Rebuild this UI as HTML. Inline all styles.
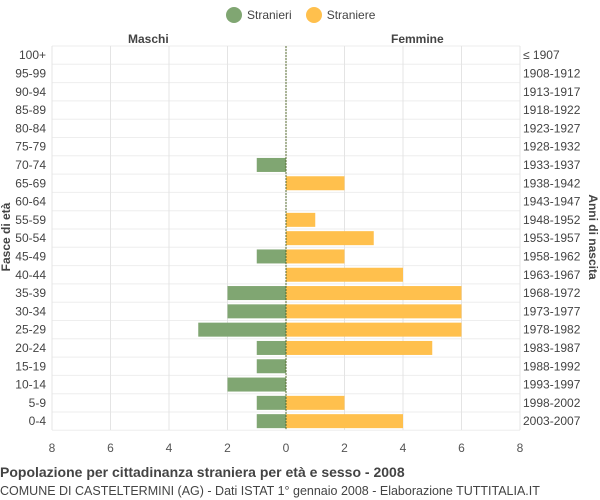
<!DOCTYPE html>
<html><head><meta charset="utf-8"><style>
body{margin:0;background:#fff;font-family:"Liberation Sans",sans-serif;}
svg text{font-family:"Liberation Sans",sans-serif;}
</style></head><body>
<svg id="c" width="600" height="500" style="position:absolute;left:0;top:0" xmlns="http://www.w3.org/2000/svg"></svg>
<script>
const ageGroups=["0-4","5-9","10-14","15-19","20-24","25-29","30-34","35-39","40-44","45-49","50-54","55-59","60-64","65-69","70-74","75-79","80-84","85-89","90-94","95-99","100+"];
const birthYears=["2003-2007","1998-2002","1993-1997","1988-1992","1983-1987","1978-1982","1973-1977","1968-1972","1963-1967","1958-1962","1953-1957","1948-1952","1943-1947","1938-1942","1933-1937","1928-1932","1923-1927","1918-1922","1913-1917","1908-1912","≤ 1907"];
const males=[1,1,2,1,1,3,2,2,0,1,0,0,0,0,1,0,0,0,0,0,0];
const females=[4,2,0,0,5,6,6,6,4,2,3,1,0,2,0,0,0,0,0,0,0];
const ticks=[8,6,4,2,0,2,4,6,8];
const NS="http://www.w3.org/2000/svg";
const svgEl=document.getElementById('c');
const cx=286, unit=29.25, plotTop=46, rowH=18.3, plotLeft=52, plotRight=520, plotBottom=430;
const xM=v=>cx-v*unit;
const xF=v=>cx+v*unit;
const yRow=i=>plotTop+(20-i)*rowH+rowH/2;
function el(tag,attrs,txt){const e=document.createElementNS(NS,tag);for(const k in attrs)e.setAttribute(k,attrs[k]);if(txt!==undefined)e.textContent=txt;svgEl.appendChild(e);return e;}
for(let i=0;i<=21;i++){const y=plotTop+i*rowH;const g=el('line',{x1:plotLeft,x2:plotRight,y1:y,y2:y,stroke:'#eeeeee'});
 
 }
for(let i=0;i<ticks.length;i++){
 const x=i<4?xM(ticks[i]):xF(ticks[i]);
 const g=el('line',{x1:x,x2:x,y1:plotTop,y2:plotBottom,stroke:'#e4e4e4'});
 
 
 const t=el('text',{x:x,y:452,'text-anchor':'middle','font-size':12,fill:'#555'},ticks[i]);
 
 
}
for(let i=0;i<ageGroups.length;i++){
 const y=yRow(i);
 const a=el('text',{x:46,y:y+4,'text-anchor':'end','font-size':12,fill:'#444'},ageGroups[i]);
 
 
 const b=el('text',{x:523,y:y+4,'font-size':12,fill:'#444'},birthYears[i]);
 
 
 if(males[i]>0){const r=el('rect',{x:xM(males[i]),y:y-7,width:males[i]*unit,height:14,fill:'#80a672'});
  
  }
 if(females[i]>0){const r=el('rect',{x:cx,y:y-7,width:females[i]*unit,height:14,fill:'#ffc04d'});
  
  }
}
const c=el('line',{x1:cx,x2:cx,y1:plotTop,y2:plotBottom,stroke:'#556b2f','stroke-dasharray':'2,1'});


</script>
<div style="position:absolute;left:0;top:0;width:600px;height:500px;pointer-events:none">
<div style="position:absolute;top:7px;left:226px;font-size:12px;color:#444;display:flex;align-items:center">
<span style="display:inline-block;width:16px;height:16px;border-radius:50%;background:#80a672;margin-right:5px"></span><span>Stranieri</span>
<span style="display:inline-block;width:16px;height:16px;border-radius:50%;background:#ffc04d;margin:0 5px 0 14px"></span><span>Straniere</span>
</div>
<div style="position:absolute;top:32px;left:128px;font-size:12px;font-weight:bold;color:#444">Maschi</div>
<div style="position:absolute;top:32px;left:391px;font-size:12px;font-weight:bold;color:#444">Femmine</div>
<div style="position:absolute;left:-29px;top:230px;width:70px;text-align:center;transform:rotate(-90deg);font-size:12px;font-weight:bold;color:#444">Fasce di età</div>
<div style="position:absolute;left:548px;top:230px;width:90px;text-align:center;transform:rotate(90deg);font-size:12px;font-weight:bold;color:#444">Anni di nascita</div>
<div style="position:absolute;left:0;top:464px;font-size:14px;font-weight:bold;color:#444">Popolazione per cittadinanza straniera per età e sesso - 2008</div>
<div style="position:absolute;left:0;top:484px;font-size:12.5px;color:#444">COMUNE DI CASTELTERMINI (AG) - Dati ISTAT 1° gennaio 2008 - Elaborazione TUTTITALIA.IT</div>
</div>
</body></html>
